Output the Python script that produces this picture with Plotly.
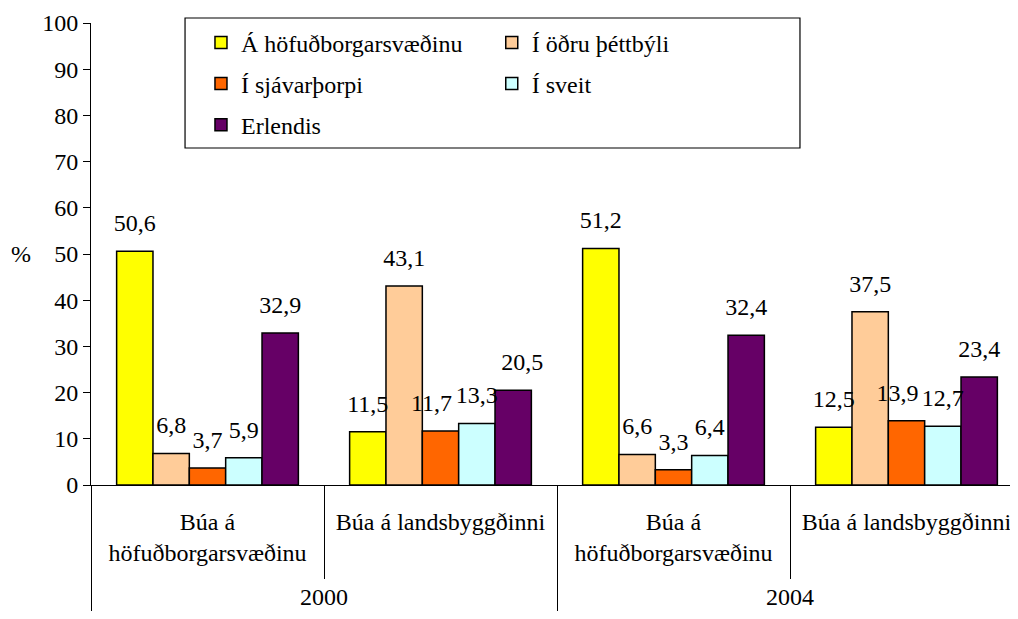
import plotly.graph_objects as go

years = ["<br>2000", "<br>2000", "<br>2004", "<br>2004"]
groups = [
    "Búa á<br>höfuðborgarsvæðinu",
    "Búa á landsbyggðinni",
    "Búa á<br>höfuðborgarsvæðinu",
    "Búa á landsbyggðinni",
]

series_names = [
    "Á höfuðborgarsvæðinu",
    "Í öðru þéttbýli",
    "Í sjávarþorpi",
    "Í sveit",
    "Erlendis",
]
hofudborg = [50.6, 11.5, 51.2, 12.5]
annad_thettbyli = [6.8, 43.1, 6.6, 37.5]
sjavarthorp = [3.7, 11.7, 3.3, 13.9]
sveit = [5.9, 13.3, 6.4, 12.7]
erlendis = [32.9, 20.5, 32.4, 23.4]

colors = ["#FFFF00", "#FFCC99", "#FF6600", "#CCFFFF", "#660066"]
legends = ["legend", "legend2", "legend", "legend2", "legend"]

# a few labels are nudged sideways in the original so they don't collide
# (series index, group index) -> side
nudge = {(2, 1): "left", (2, 3): "left", (4, 1): "right"}

FONT = "Liberation Serif"
FS = 24
NBSP = "\u00a0"


def fmt(v, side=None):
    s = f"{v:.1f}".replace(".", ",")
    if side == "left":
        return s + NBSP * 3
    if side == "right":
        return NBSP * 3 + s
    return s


fig = go.Figure()
all_values = [hofudborg, annad_thettbyli, sjavarthorp, sveit, erlendis]
for i, (name, vals) in enumerate(zip(series_names, all_values)):
    fig.add_bar(
        x=[years, groups],
        y=vals,
        name=name,
        offsetgroup=str(i),
        legendgroup=name,
        legend=legends[i],
        marker=dict(color=colors[i], line=dict(color="black", width=1.5)),
    )
    # data labels, as a grouped scatter so they line up with the bars
    fig.add_scatter(
        x=[years, groups],
        y=vals,
        mode="markers+text",
        offsetgroup=str(i),
        text=[fmt(v, nudge.get((i, j))) for j, v in enumerate(vals)],
        textposition="top center",
        textfont=dict(family=FONT, size=FS, color="black"),
        marker=dict(size=21, opacity=0),
        cliponaxis=False,
        showlegend=False,
        hoverinfo="skip",
    )

# the page body adds 8px, so the margins are 8px smaller on the left/top
fig.update_layout(
    width=1018,
    height=619,
    margin=dict(l=83, r=3, t=15, b=142),
    paper_bgcolor="white",
    plot_bgcolor="white",
    font=dict(family=FONT, size=FS, color="black"),
    barmode="group",
    bargap=0.22,
    scattermode="group",
    hovermode=False,
    legend=dict(
        x=0.118, y=1.0058, xanchor="left", yanchor="top",
        bgcolor="rgba(0,0,0,0)", tracegroupgap=7,
        font=dict(family=FONT, size=FS),
    ),
    legend2=dict(
        x=0.43, y=1.0058, xanchor="left", yanchor="top",
        bgcolor="rgba(0,0,0,0)", tracegroupgap=7,
        font=dict(family=FONT, size=FS),
    ),
    shapes=[
        dict(type="rect", xref="paper", yref="paper",
             x0=0.1009, x1=0.7607, y0=0.7294, y1=1.0108,
             line=dict(color="black", width=1.2)),
    ],
    annotations=[
        dict(text="%", xref="paper", yref="y", x=-0.075, y=50,
             xanchor="center", yanchor="middle", showarrow=False,
             font=dict(family=FONT, size=FS)),
    ],
)

fig.update_xaxes(
    type="multicategory",
    automargin=False,
    showline=True, linecolor="black", linewidth=1,
    ticks="outside", tickson="boundaries", ticklen=93, tickcolor="black",
    ticklabelstandoff=15,
    showdividers=True, dividercolor="black", dividerwidth=1,
    showgrid=False,
    tickfont=dict(family=FONT, size=FS),
)
fig.update_yaxes(
    range=[0, 100], dtick=10,
    automargin=False,
    showline=True, linecolor="black", linewidth=1,
    ticks="outside", ticklen=7, tickcolor="black",
    showgrid=False, zeroline=False,
    tickfont=dict(family=FONT, size=FS),
)

fig.write_html("out.html")
